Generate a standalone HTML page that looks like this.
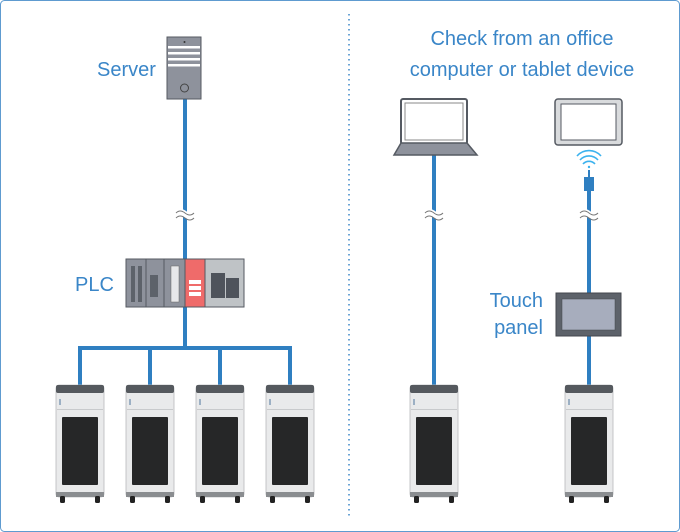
<!DOCTYPE html>
<html><head><meta charset="utf-8"><style>
html,body{margin:0;padding:0;background:#fff}
svg{display:block}
text{font-family:"Liberation Sans",Arial,sans-serif;fill:#3a86c8}
</style></head><body>
<svg width="680" height="532" viewBox="0 0 680 532" xmlns="http://www.w3.org/2000/svg">
<defs>
<g id="ch">
<rect x="0" y="0" width="48" height="112" rx="3" fill="#e9eaeb" stroke="#b8babc" stroke-width="0.8"/>
<rect x="0" y="0" width="48" height="8" rx="2" fill="#55595e"/>
<rect x="1" y="24" width="46" height="1" fill="#c8cacc"/>
<rect x="3" y="14" width="2" height="6" fill="#9cb0c4"/>
<rect x="6" y="32" width="36" height="68" rx="1" fill="#262728"/>
<rect x="0" y="107" width="48" height="5" fill="#8a8d90"/>
<rect x="4" y="111" width="5" height="7" rx="1.5" fill="#222"/>
<rect x="39" y="111" width="5" height="7" rx="1.5" fill="#222"/>
</g>
<g id="brk">
<path d="M-9 -2 q4 -4 9 0 t9 0" fill="none" stroke="#fff" stroke-width="6"/>
<path d="M-9 -3 q4 -4 9 0 t9 0 M-9 2 q4 -4 9 0 t9 0" fill="none" stroke="#777" stroke-width="1"/>
</g>
</defs>
<rect x="0.5" y="0.5" width="679" height="531" rx="4" fill="#fff" stroke="#5e9bd0" stroke-width="1"/>
<line x1="349" y1="14" x2="349" y2="516" stroke="#3a86c8" stroke-width="1.5" stroke-dasharray="1.5 3.5"/>

<g stroke="#2f7fc1" stroke-width="4" fill="none">
<line x1="185" y1="99" x2="185" y2="348"/>
<polyline points="80,386 80,348 290,348 290,386"/>
<line x1="150" y1="348" x2="150" y2="386"/>
<line x1="220" y1="348" x2="220" y2="386"/>
<line x1="434" y1="155" x2="434" y2="386"/>
<line x1="589" y1="185" x2="589" y2="386"/>
</g>
<use href="#brk" x="185" y="216"/>
<use href="#brk" x="434" y="216"/>
<use href="#brk" x="589" y="216"/>

<rect x="167" y="37" width="34" height="62" fill="#8e929c" stroke="#555a62" stroke-width="1"/>
<rect x="168" y="46" width="32" height="2.5" fill="#fff"/>
<rect x="168" y="52" width="32" height="2.5" fill="#fff"/>
<rect x="168" y="58" width="32" height="2.5" fill="#fff"/>
<rect x="168" y="64" width="32" height="2.5" fill="#fff"/>
<circle cx="184.5" cy="42" r="1" fill="#333"/>
<circle cx="184.5" cy="88" r="4" fill="none" stroke="#444" stroke-width="1"/>
<text x="97" y="76" font-size="20">Server</text>

<rect x="126" y="259" width="118" height="48" fill="#8e929c" stroke="#555a62"/>
<line x1="146" y1="259" x2="146" y2="307" stroke="#555a62"/>
<line x1="164" y1="259" x2="164" y2="307" stroke="#555a62"/>
<rect x="131" y="266" width="4" height="36" fill="#5d626a"/>
<rect x="138" y="266" width="4" height="36" fill="#5d626a"/>
<rect x="150" y="275" width="8" height="22" fill="#5d626a"/>
<rect x="171" y="266" width="8" height="36" fill="#e8e8ea" stroke="#666" stroke-width="0.5"/>
<rect x="185" y="259" width="20" height="48" fill="#ef6b6a" stroke="#555a62"/>
<rect x="189" y="280" width="12" height="4" fill="#fff"/>
<rect x="189" y="286" width="12" height="4" fill="#fff"/>
<rect x="189" y="292" width="12" height="4" fill="#fff"/>
<rect x="205" y="259" width="39" height="48" fill="#bfc3c6" stroke="#555a62"/>
<rect x="211" y="273" width="14" height="25" fill="#4e535b"/>
<rect x="226" y="278" width="13" height="20" fill="#4e535b"/>
<text x="75" y="291" font-size="20">PLC</text>

<use href="#ch" x="56" y="385"/>
<use href="#ch" x="126" y="385"/>
<use href="#ch" x="196" y="385"/>
<use href="#ch" x="266" y="385"/>
<use href="#ch" x="410" y="385"/>
<use href="#ch" x="565" y="385"/>

<text x="522" y="45" font-size="20" text-anchor="middle">Check from an office</text>
<text x="522" y="76" font-size="20" text-anchor="middle">computer or tablet device</text>

<rect x="401" y="99" width="66" height="45" rx="2" fill="#fff" stroke="#555a62" stroke-width="2"/>
<rect x="405" y="103" width="58" height="37" fill="#fff" stroke="#888" stroke-width="1"/>
<path d="M401 143 L467 143 L477 155 L394 155 Z" fill="#8e929c" stroke="#555a62" stroke-width="1.5"/>

<rect x="555" y="99" width="67" height="46" rx="3" fill="#d9dbdd" stroke="#555a62" stroke-width="1.5"/>
<rect x="561" y="104" width="55" height="36" fill="#fff" stroke="#555a62" stroke-width="1"/>
<g fill="none" stroke="#3cb2ee" stroke-width="1.6">
<path d="M583 164 a8 8 0 0 1 12 0"/>
<path d="M580 160 a12 12 0 0 1 18 0"/>
<path d="M577 156 a16 16 0 0 1 24 0"/>
</g>
<circle cx="589" cy="167" r="1.2" fill="#3cb2ee"/>
<rect x="588" y="170" width="2" height="8" fill="#2f7fc1"/>
<rect x="584" y="177" width="10" height="14" fill="#2f7fc1"/>

<rect x="556" y="293" width="65" height="43" fill="#5d626a" stroke="#44474d"/>
<rect x="562" y="299" width="53" height="31" fill="#a7adbd" stroke="#44474d" stroke-width="0.5"/>
<text x="543" y="307" font-size="20" text-anchor="end">Touch</text>
<text x="543" y="334" font-size="20" text-anchor="end">panel</text>
</svg>
</body></html>
